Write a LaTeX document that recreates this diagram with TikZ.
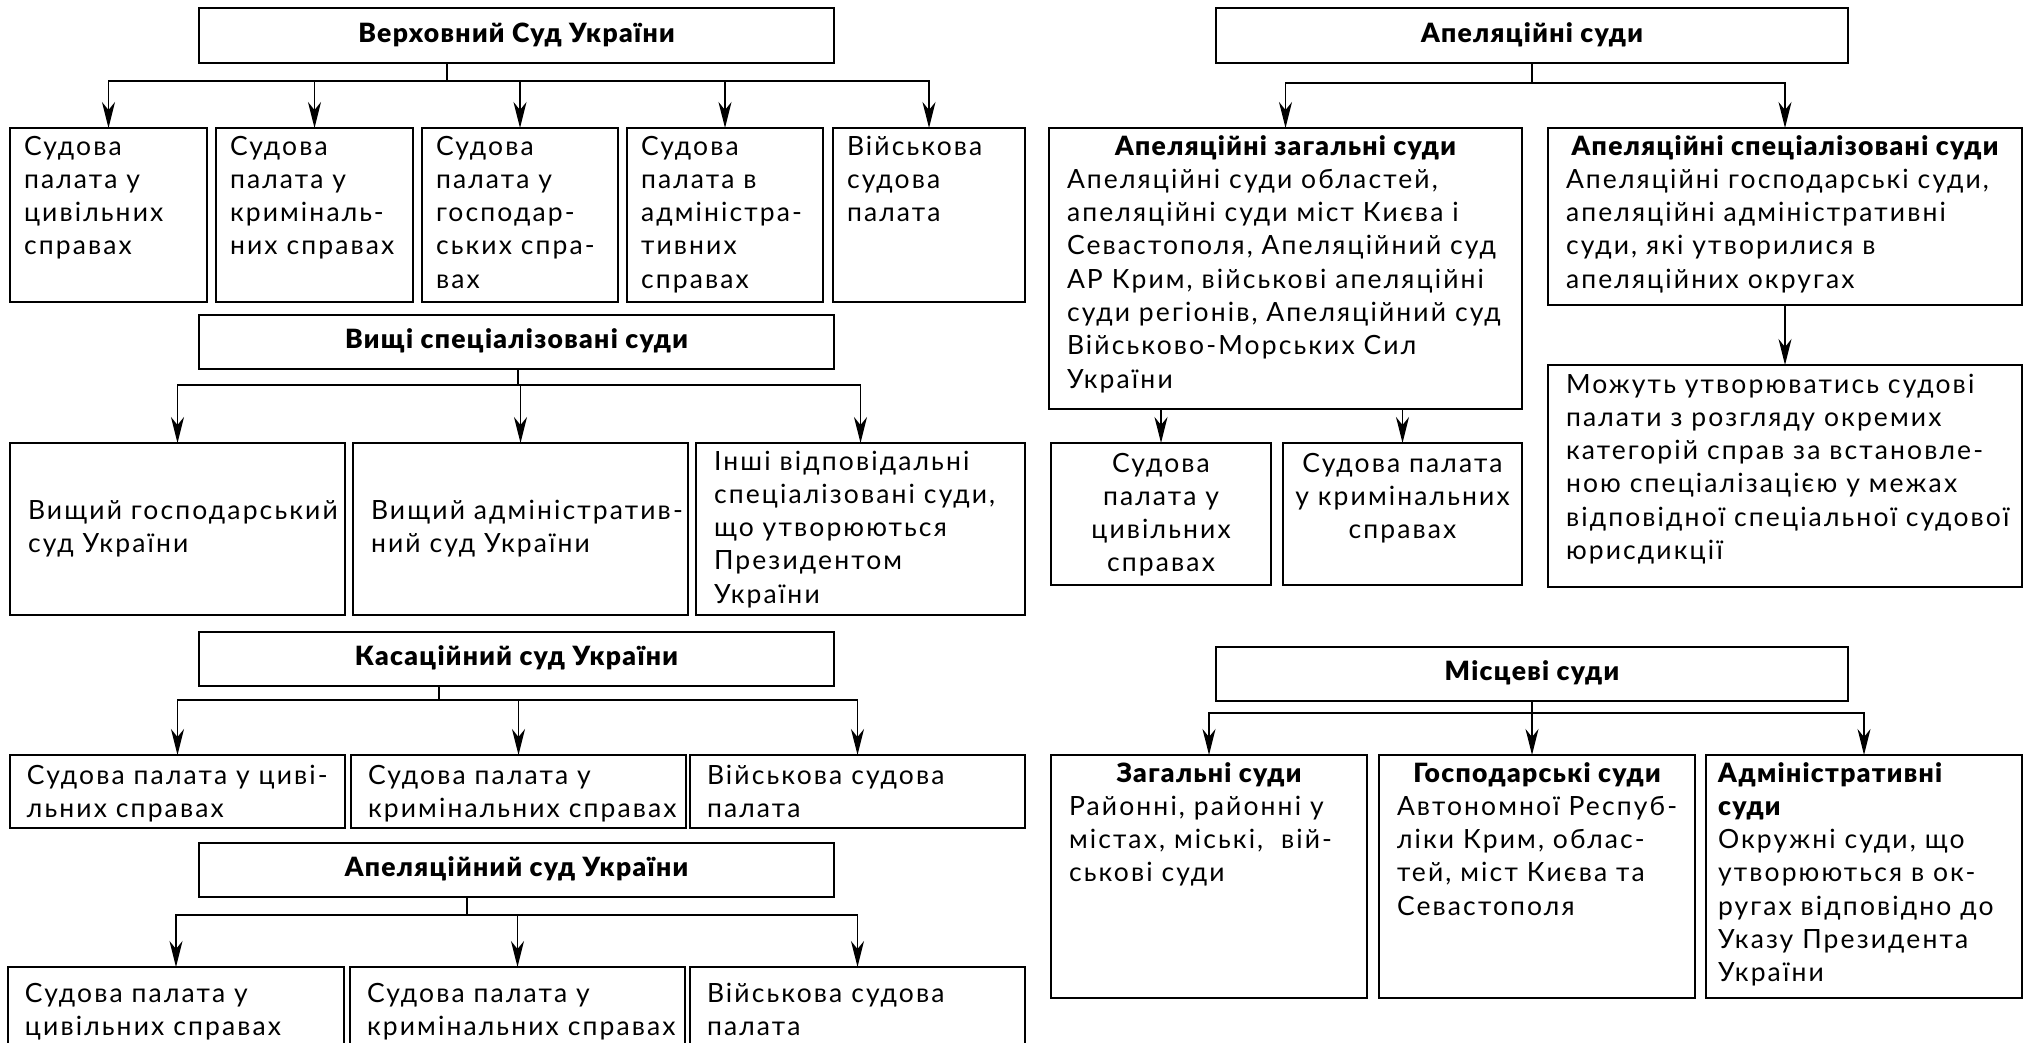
\documentclass[tikz,border=0pt]{standalone}
\usepackage{fontspec}
\setmainfont{Lato}[LetterSpace=8, BoldFont={Lato Black}, BoldFeatures={LetterSpace=5}]
\usetikzlibrary{arrows.meta}
\hyphenpenalty=10000
\exhyphenpenalty=10000
\tikzset{
  box/.style={draw, line width=2pt, inner sep=0pt, outer sep=0pt, anchor=north west,
    font=\fontsize{26.5pt}{33.3pt}\selectfont},
  conn/.style={line width=1.6pt},
  bus/.style={conn, line cap=rect},
  arr/.style={conn, -{Stealth[length=26pt,width=13pt,inset=8pt]}},
}
% name, x, y, w, h, pad, first baseline, content (top, left)
\newcommand\bxT[8]{\node[box] (#1) at (#2,#3) {\parbox[b][#5pt][t]{#4pt}{\raggedright\leftskip=#6pt\relax\rule{0pt}{#7pt}#8}};}
% name, x, y, w, h, content (top, centred)
\newcommand\bxC[6]{\node[box] (#1) at (#2,#3) {\parbox[b][#5pt][t]{#4pt}{\centering\rule{0pt}{29pt}#6}};}
% name, x, y, w, h, pad, content (middle, left)
\newcommand\bxV[7]{\node[box] (#1) at (#2,#3) {\parbox[b][#5pt][c]{#4pt}{\raggedright\leftskip=#6pt\relax\strut #7\strut}};}
% name, x, y, w, h, content (heading, middle, centred)
\newcommand\bxH[6]{\node[box] (#1) at (#2,#3) {\parbox[b][#5pt][c]{#4pt}{\centering\bfseries\strut #6\strut}};}
% name, x, y, w, h, pad, heading, body
\newcommand\bxHB[8]{\node[box] (#1) at (#2,#3) {\parbox[b][#5pt][t]{#4pt}{\centering\bfseries\rule{0pt}{27pt}#7\par\raggedright\leftskip=#6pt\relax\mdseries #8}};}
\begin{document}
\begin{tikzpicture}[x=1pt,y=-1pt]
\useasboundingbox (0,0) rectangle (2044,1042);
\clip (0,0) rectangle (2044,1042);

% ---------------- left column ----------------
\bxH{vs}{199}{8}{635}{55}{Верховний Суд України}
\bxT{b1}{10}{128}{197}{174}{14}{27}{Судова\\палата у\\цивільних\\справах}
\bxT{b2}{216}{128}{197}{174}{14}{27}{Судова\\палата у\\криміналь-\\них справах}
\bxT{b3}{422}{128}{196}{174}{14}{27}{Судова\\палата у\\господар-\\ських спра-\\вах}
\bxT{b4}{627}{128}{196}{174}{14}{27}{Судова\\палата в\\адміністра-\\тивних\\справах}
\bxT{b5}{833}{128}{192}{174}{14}{27}{Військова\\судова\\палата}

\bxH{vsc}{199}{315}{635}{54}{Вищі спеціалізовані суди}
\bxV{c1}{10}{443}{335}{172}{18}{Вищий господарський\\суд України}
\bxV{c2}{353}{443}{335}{172}{18}{Вищий адміністратив-\\ний суд України}
\bxT{c3}{696}{443}{329}{172}{18}{27}{Інші відповідальні\\спеціалізовані суди,\\що утворюються\\Президентом\\України}

\bxH{ks}{199}{632}{635}{54}{Касаційний суд України}
\bxT{d1}{10}{755}{335}{73}{17}{29}{Судова палата у циві-\\льних справах}
\bxT{d2}{351}{755}{335}{73}{17}{29}{Судова палата у\\кримінальних справах}
\bxT{d3}{690}{755}{335}{73}{17}{29}{Військова судова\\палата}

\bxH{as}{199}{843}{635}{54}{Апеляційний суд України}
\bxT{e1}{8}{967}{336}{90}{17}{35}{Судова палата у\\цивільних справах}
\bxT{e2}{350}{967}{335}{90}{17}{35}{Судова палата у\\кримінальних справах}
\bxT{e3}{690}{967}{335}{90}{17}{35}{Військова судова\\палата}

% ---------------- right column ----------------
\bxH{ap}{1216}{8}{632}{55}{Апеляційні суди}
\bxHB{f1}{1049}{128}{473}{281}{18}{Апеляційні загальні суди}{Апеляційні суди областей,\\апеляційні суди міст Києва і\\Севастополя, Апеляційний суд\\АР Крим, військові апеляційні\\суди регіонів, Апеляційний суд\\Військово-Морських Сил\\України}
\bxHB{f2}{1548}{128}{474}{177}{18}{Апеляційні спеціалізовані суди}{Апеляційні господарські суди,\\апеляційні адміністративні\\суди, які утворилися в\\апеляційних округах}
\bxC{h1}{1051}{443}{220}{142}{Судова\\палата у\\цивільних\\справах}
\bxC{h2}{1283}{443}{239}{142}{Судова палата\\у кримінальних\\справах}
\bxT{g}{1548}{365}{474}{222}{18}{28}{Можуть утворюватись судові\\палати з розгляду окремих\\категорій справ за встановле-\\ною спеціалізацією у межах\\відповідної спеціальної судової\\юрисдикції}

\bxH{ms}{1216}{647}{632}{54}{Місцеві суди}
\bxHB{i1}{1051}{755}{316}{243}{18}{Загальні суди}{Районні, районні у\\містах, міські,\ \ вій-\\ськові суди}
\bxHB{i2}{1379}{755}{316}{243}{18}{Господарські суди}{Автономної Респуб-\\ліки Крим, облас-\\тей, міст Києва та\\Севастополя}
\bxT{i3}{1706}{755}{316}{243}{12}{27}{\textbf{Адміністративні}\\\textbf{суди}\\Окружні суди, що\\утворюються в ок-\\ругах відповідно до\\Указу Президента\\України}

% ---------------- connectors ----------------
\coordinate (j1) at (447,81);
\draw[conn] (vs.south -| j1) -- (j1);
\draw[bus] (b1.north |- j1) -- (b5.north |- j1);
\foreach \n in {b1,b2,b3,b4,b5} \draw[arr] (\n.north |- j1) -- (\n.north);

\coordinate (j2) at (518,385);
\draw[conn] (vsc.south -| j2) -- (j2);
\draw[bus] (c1.north |- j2) -- (c3.north |- j2);
\foreach \n in {c1,c2,c3} \draw[arr] (\n.north |- j2) -- (\n.north);

\coordinate (j3) at (439,700);
\draw[conn] (ks.south -| j3) -- (j3);
\draw[bus] (d1.north |- j3) -- (d3.north |- j3);
\foreach \n in {d1,d2,d3} \draw[arr] (\n.north |- j3) -- (\n.north);

\coordinate (j4) at (467,915);
\draw[conn] (as.south -| j4) -- (j4);
\draw[bus] (e1.north |- j4) -- (e3.north |- j4);
\foreach \n in {e1,e2,e3} \draw[arr] (\n.north |- j4) -- (\n.north);

\coordinate (j5) at (1532,83);
\draw[conn] (ap.south -| j5) -- (j5);
\draw[bus] (f1.north |- j5) -- (f2.north |- j5);
\foreach \n in {f1,f2} \draw[arr] (\n.north |- j5) -- (\n.north);

\draw[arr] (h1.north |- f1.south) -- (h1.north);
\draw[arr] (h2.north |- f1.south) -- (h2.north);
\draw[arr] (f2.south) -- (g.north);

\coordinate (j6) at (1532,713);
\draw[conn] (ms.south -| j6) -- (j6);
\draw[bus] (i1.north |- j6) -- (i3.north |- j6);
\draw[arr] (i1.north |- j6) -- (i1.north);
\draw[arr] (j6) -- (j6 |- i2.north);
\draw[arr] (i3.north |- j6) -- (i3.north);
\end{tikzpicture}
\end{document}
